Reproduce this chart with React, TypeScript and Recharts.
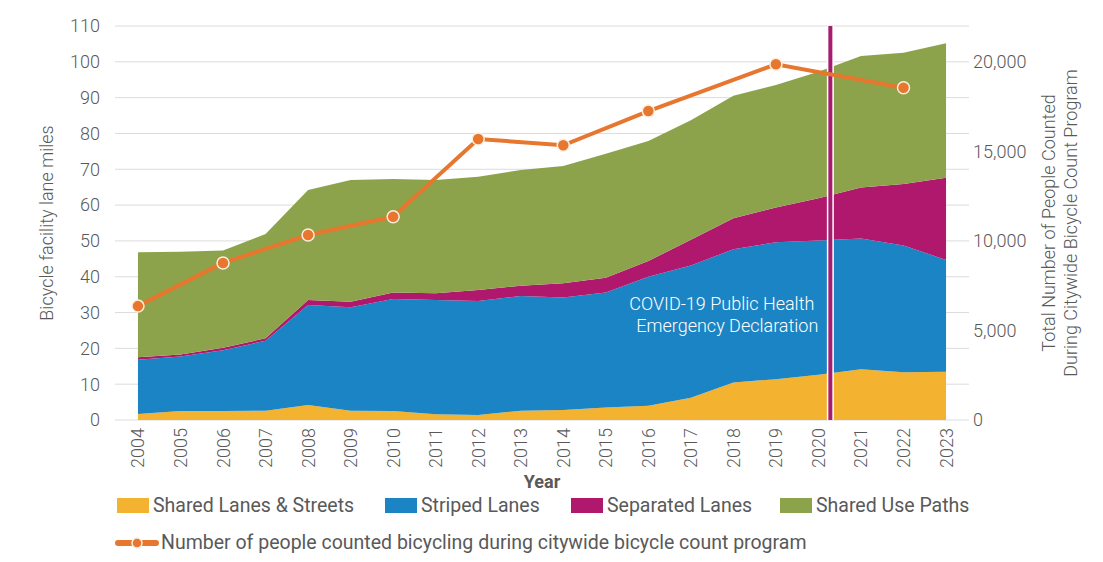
import React from "react";
import {
  ComposedChart,
  Area,
  Line,
  XAxis,
  YAxis,
  CartesianGrid,
  ReferenceLine,
} from "recharts";

const years = [
  2004, 2005, 2006, 2007, 2008, 2009, 2010, 2011, 2012, 2013, 2014, 2015,
  2016, 2017, 2018, 2019, 2020, 2021, 2022, 2023,
];
const sharedLanes = [
  1.7, 2.5, 2.5, 2.6, 4.2, 2.6, 2.5, 1.6, 1.4, 2.6, 2.8, 3.5, 4.0, 6.2, 10.5,
  11.4, 12.6, 14.2, 13.3, 13.5,
];
const stripedLanes = [
  15.1, 15.2, 17.0, 19.5, 27.9, 28.9, 31.3, 31.9, 31.8, 32.0, 31.4, 32.1,
  36.0, 36.9, 37.2, 38.2, 37.5, 36.5, 35.4, 31.2,
];
const separatedLanes = [
  0.7, 0.6, 0.7, 0.7, 1.4, 1.5, 1.8, 1.9, 3.1, 2.9, 4.0, 4.1, 4.4, 7.2, 8.6,
  9.7, 11.8, 14.2, 17.2, 22.9,
];
const sharedUsePaths = [
  29.3, 28.7, 27.1, 29.1, 30.7, 34.0, 31.7, 31.6, 31.6, 32.3, 32.7, 34.6,
  33.5, 33.4, 34.2, 34.2, 35.3, 36.7, 36.6, 37.6,
];
const bikeCounts = [
  6360, null, 8770, null, 10330, null, 11350, null, 15690, null, 15340, null,
  17250, null, null, 19860, null, null, 18550, null,
];
const leftTicks = [0, 10, 20, 30, 40, 50, 60, 70, 80, 90, 100, 110];
const rightTicks = [0, 5000, 10000, 15000, 20000];
const covidDate = 2020.28;

const data = years.map((year, i) => ({
  year,
  shared: sharedLanes[i],
  striped: stripedLanes[i],
  separated: separatedLanes[i],
  paths: sharedUsePaths[i],
  count: bikeCounts[i],
}));

const COLORS = {
  shared: "#f4b231",
  striped: "#1b84c4",
  separated: "#b0186e",
  paths: "#8da34b",
  count: "#e7762e",
  covid: "#a51d6e",
};
const GRAY = "#595959";
const FONT = "Roboto, 'DejaVu Sans', sans-serif";

const YearTick = ({ x, y, payload }: any) => (
  <g transform={`translate(${x},${y}) rotate(-90)`}>
    <text
      x={0}
      y={0}
      dy={6.5}
      textAnchor="end"
      fill={GRAY}
      fontSize={18}
      fontWeight={300}
      fontFamily={FONT}
    >
      {payload.value}
    </text>
  </g>
);

const LeftLabel = ({ viewBox }: any) => {
  const cy = viewBox.y + viewBox.height / 2;
  return (
    <text
      transform={`translate(46,${cy}) rotate(-90)`}
      textAnchor="middle"
      dy={6.5}
      fill={GRAY}
      fontSize={18}
      fontWeight={300}
      fontFamily={FONT}
    >
      Bicycle facility lane miles
    </text>
  );
};

const RightLabel = ({ viewBox }: any) => {
  const cy = viewBox.y + viewBox.height / 2;
  const x = viewBox.x;
  return (
    <g fill={GRAY} fontSize={18} fontWeight={300} fontFamily={FONT}>
      <text
        transform={`translate(${x + 79},${cy}) rotate(-90)`}
        textAnchor="middle"
        dy={6.5}
      >
        Total Number of People Counted
      </text>
      <text
        transform={`translate(${x + 101},${cy}) rotate(-90)`}
        textAnchor="middle"
        dy={6.5}
      >
        During Citywide Bicycle Count Program
      </text>
    </g>
  );
};

const CovidLabel = ({ viewBox }: any) => (
  <g fill="#ffffff" fontSize={18} fontWeight={300} fontFamily={FONT}>
    <text x={viewBox.x - 16} y={viewBox.y + 284} textAnchor="end">
      COVID-19 Public Health
    </text>
    <text x={viewBox.x - 12} y={viewBox.y + 306} textAnchor="end">
      Emergency Declaration
    </text>
  </g>
);

const legendItems = [
  { label: "Shared Lanes & Streets", color: COLORS.shared, left: 117 },
  { label: "Striped Lanes", color: COLORS.striped, left: 385 },
  { label: "Separated Lanes", color: COLORS.separated, left: 571 },
  { label: "Shared Use Paths", color: COLORS.paths, left: 780 },
];

export default function App() {
  return (
    <div
      style={{
        position: "absolute",
        left: 0,
        top: 0,
        width: 1103,
        height: 562,
        background: "#ffffff",
        fontFamily: FONT,
      }}
    >
      <ComposedChart
        width={1103}
        height={562}
        data={data}
        margin={{ top: 26, right: 0, bottom: 72, left: 0 }}
      >
        <CartesianGrid
          yAxisId="left"
          vertical={false}
          stroke="#dcdcdc"
          strokeWidth={1}
        />
        <XAxis
          dataKey="year"
          type="number"
          domain={[2003.46, 2023.54]}
          ticks={years}
          interval={0}
          height={70}
          tickLine={false}
          axisLine={false}
          tickSize={6}
          tickMargin={2}
          tick={<YearTick />}
          label={{
            value: "Year",
            position: "insideBottom",
            offset: 2,
            fill: GRAY,
            fontSize: 18,
            fontWeight: 700,
            fontFamily: FONT,
          }}
        />
        <YAxis
          yAxisId="left"
          width={115}
          domain={[0, 110]}
          ticks={leftTicks}
          interval={0}
          tickLine={false}
          axisLine={false}
          tickSize={0}
          tickMargin={15}
          tick={{ fill: GRAY, fontSize: 18, fontWeight: 300, fontFamily: FONT }}
          label={<LeftLabel />}
        />
        <YAxis
          yAxisId="right"
          orientation="right"
          width={134}
          domain={[0, 22000]}
          ticks={rightTicks}
          interval={0}
          tickLine={false}
          axisLine={false}
          tickSize={0}
          tickMargin={4}
          tickFormatter={(v: number) => v.toLocaleString("en-US")}
          tick={{
            fill: GRAY,
            fontSize: 18,
            fontWeight: 300,
            fontFamily: FONT,
            textAnchor: "start",
          }}
          label={<RightLabel />}
        />
        <Area
          yAxisId="left"
          type="linear"
          dataKey="shared"
          stackId="miles"
          stroke="none"
          fill={COLORS.shared}
          fillOpacity={1}
          isAnimationActive={false}
        />
        <Area
          yAxisId="left"
          type="linear"
          dataKey="striped"
          stackId="miles"
          stroke="none"
          fill={COLORS.striped}
          fillOpacity={1}
          isAnimationActive={false}
        />
        <Area
          yAxisId="left"
          type="linear"
          dataKey="separated"
          stackId="miles"
          stroke="none"
          fill={COLORS.separated}
          fillOpacity={1}
          isAnimationActive={false}
        />
        <Area
          yAxisId="left"
          type="linear"
          dataKey="paths"
          stackId="miles"
          stroke="none"
          fill={COLORS.paths}
          fillOpacity={1}
          isAnimationActive={false}
        />
        <ReferenceLine
          yAxisId="left"
          x={covidDate}
          stroke="#ffffff"
          strokeWidth={7}
        />
        <ReferenceLine
          yAxisId="left"
          x={covidDate}
          stroke={COLORS.covid}
          strokeWidth={4}
          label={<CovidLabel />}
        />
        <Line
          yAxisId="right"
          type="linear"
          dataKey="count"
          stroke={COLORS.count}
          strokeWidth={4}
          connectNulls
          dot={{ r: 6, fill: COLORS.count, stroke: "#fbeedd", strokeWidth: 1.5 }}
          isAnimationActive={false}
        />
      </ComposedChart>
      {legendItems.map((item) => (
        <div
          key={item.label}
          style={{
            position: "absolute",
            left: item.left,
            top: 494,
            display: "flex",
            alignItems: "center",
            fontSize: 19.5,
            color: GRAY,
            whiteSpace: "nowrap",
          }}
        >
          <span
            style={{
              display: "inline-block",
              width: 32,
              height: 15,
              background: item.color,
              marginRight: 4,
            }}
          />
          {item.label}
        </div>
      ))}
      <div
        style={{
          position: "absolute",
          left: 115,
          top: 531,
          display: "flex",
          alignItems: "center",
          fontSize: 19.5,
          color: GRAY,
          whiteSpace: "nowrap",
        }}
      >
        <svg width={44} height={14} style={{ marginRight: 2 }}>
          <line
            x1={3}
            y1={7}
            x2={41}
            y2={7}
            stroke={COLORS.count}
            strokeWidth={6}
            strokeLinecap="round"
          />
          <circle cx={22} cy={7} r={5} fill={COLORS.count} stroke="#fbeedd" strokeWidth={1.5} />
        </svg>
        Number of people counted bicycling during citywide bicycle count program
      </div>
    </div>
  );
}
